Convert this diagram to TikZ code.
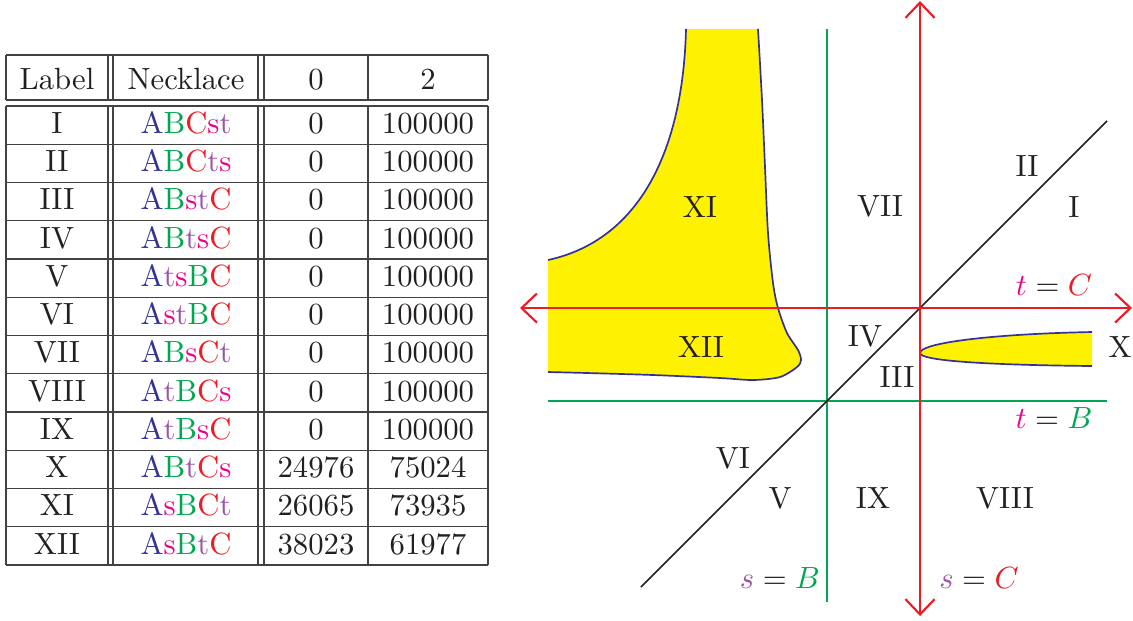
\documentclass[tikz,border=0pt]{standalone}
\usepackage{xcolor}
\usetikzlibrary{arrows.meta}
\definecolor{nkblue}{RGB}{50,50,150}
\definecolor{nkgreen}{RGB}{0,166,81}
\definecolor{nkred}{RGB}{237,28,36}
\definecolor{nkpink}{RGB}{236,0,140}
\definecolor{nkpurple}{RGB}{155,85,165}
\definecolor{regyellow}{RGB}{255,242,0}
\definecolor{inkgray}{RGB}{35,31,32}
\newcommand\nkA{\textcolor{nkblue}{A}}
\newcommand\nkB{\textcolor{nkgreen}{B}}
\newcommand\nkC{\textcolor{nkred}{C}}
\newcommand\nks{\textcolor{nkpink}{s}}
\newcommand\nkt{\textcolor{nkpurple}{t}}
\tikzset{
  cell/.style={anchor=base, inner sep=0pt, text=inkgray},
  grid/.style={draw=inkgray!85, line width=0.4pt},
  reg/.style={text=inkgray, inner sep=1pt},
  tag/.style={text=inkgray, inner sep=1pt},
  lineC/.style={draw=nkred, line width=0.7pt},
  lineB/.style={draw=nkgreen, line width=0.7pt},
  diag/.style={draw=inkgray, line width=0.55pt},
  rim/.style={draw=nkblue, line width=0.55pt},
  bothbarb/.style={{Straight Barb[length=5pt,width=9.5pt]}-{Straight Barb[length=5pt,width=9.5pt]}}
}
\begin{document}
\begin{tikzpicture}[x=0.326pt, y=-0.326pt]
  \useasboundingbox (0,0) rectangle (1133,620);

  % table grid
  \foreach \yy in {55,100,106} {
    \draw[grid] (6,\yy) -- (488,\yy);
  }
  \foreach \k in {1,...,12} {
    \draw[grid] (6,{106+38.25*\k}) -- (488,{106+38.25*\k});
  }
  \foreach \xx in {6,108,113,258,264,368,488} {
    \draw[grid] (\xx,55) -- (\xx,100);
    \draw[grid] (\xx,106) -- (\xx,565);
  }

  % header
  \node[cell] (hlab) at (57,89) {Label};
  \node[cell] (hneck) at (186,89) {Necklace};
  \node[cell] (hzero) at (316,89) {0};
  \node[cell] (htwo) at (428,89) {2};

  % rows
  \foreach \lab/\nk/\za/\zb [count=\i] in {
      I/{\nkA\nkB\nkC\nks\nkt}/0/100000,
      II/{\nkA\nkB\nkC\nkt\nks}/0/100000,
      III/{\nkA\nkB\nks\nkt\nkC}/0/100000,
      IV/{\nkA\nkB\nkt\nks\nkC}/0/100000,
      V/{\nkA\nkt\nks\nkB\nkC}/0/100000,
      VI/{\nkA\nks\nkt\nkB\nkC}/0/100000,
      VII/{\nkA\nkB\nks\nkC\nkt}/0/100000,
      VIII/{\nkA\nkt\nkB\nkC\nks}/0/100000,
      IX/{\nkA\nkt\nkB\nks\nkC}/0/100000,
      X/{\nkA\nkB\nkt\nkC\nks}/24976/75024,
      XI/{\nkA\nks\nkB\nkC\nkt}/26065/73935,
      XII/{\nkA\nks\nkB\nkt\nkC}/38023/61977} {
    \node[cell] (lab\i) at (57,{95+38.25*\i}) {\lab};
    \node[cell] (neck\i) at (186,{95+38.25*\i}) {\nk};
    \node[cell] (za\i) at (316,{95+38.25*\i}) {\za};
    \node[cell] (zb\i) at (428,{95+38.25*\i}) {\zb};
  }

  % yellow regions
  \fill[regyellow] (548,372) -- (548,260)
    .. controls (640,240) and (683,150) .. (686,29)
    -- (758,29)
    -- plot[smooth] coordinates {(758,29) (762,100) (765,167) (768,233) (773,283) (778,308) (787,333) (798,350) (801,360) (797,367) (780,377) (753,380) (720,378) (653,375) (587,373) (548,372)}
    -- cycle;
  \draw[rim] (548,260) .. controls (640,240) and (683,150) .. (686,29);
  \draw[rim] plot[smooth] coordinates {(758,29) (762,100) (765,167) (768,233) (773,283) (778,308) (787,333) (798,350) (801,360) (797,367) (780,377) (753,380) (720,378) (653,375) (587,373) (548,372)};

  \fill[regyellow] (1092,332) .. controls (990,334) and (920,343) .. (920,353)
    .. controls (920,361) and (990,365) .. (1092,366) -- cycle;
  \draw[rim] (1092,332) .. controls (990,334) and (920,343) .. (920,353)
    .. controls (920,361) and (990,365) .. (1092,366);

  % lines
  \draw[lineB] (827,29) -- (827,602);
  \draw[lineB] (548,401) -- (1107,401);
  \draw[diag] (641,587) -- (1107,121);
  \draw[lineC, bothbarb] (920,1) -- (920,616);
  \draw[lineC, bothbarb] (520,308) -- (1132,308);

  % region labels
  \node[reg] (rXI) at (700,207) {XI};
  \node[reg] (rVII) at (880,206) {VII};
  \node[reg] (rII) at (1027,166) {II};
  \node[reg] (rI) at (1074,207) {I};
  \node[reg] (rXII) at (701,347) {XII};
  \node[reg] (rIV) at (865,336) {IV};
  \node[reg] (rIII) at (897,377) {III};
  \node[reg] (rX) at (1120,347) {X};
  \node[reg] (rVI) at (733,458) {VI};
  \node[reg] (rV) at (780,498) {V};
  \node[reg] (rIX) at (873,498) {IX};
  \node[reg] (rVIII) at (1005,498) {VIII};

  % line labels
  \node[tag] (tC) at (1054,285) {$\textcolor{nkpink}{t}=\textcolor{nkred}{C}$};
  \node[tag] (tB) at (1054,418) {$\textcolor{nkpink}{t}=\textcolor{nkgreen}{B}$};
  \node[tag] (sB) at (780,578) {$\textcolor{nkpurple}{s}=\textcolor{nkgreen}{B}$};
  \node[tag] (sC) at (979,578) {$\textcolor{nkpurple}{s}=\textcolor{nkred}{C}$};
\end{tikzpicture}
\end{document}
